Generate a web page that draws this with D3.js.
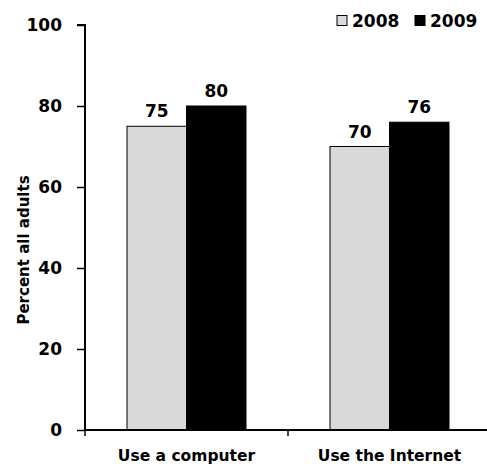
<!DOCTYPE html>
<html><head><meta charset="utf-8">
<script src="https://cdn.jsdelivr.net/npm/d3@7"></script>
<style>body{margin:0;background:#fff}svg{display:block}text{font-family:"DejaVu Sans",sans-serif;font-weight:bold;fill:#000}</style>
</head><body><svg id="c" width="487" height="464"></svg>
<script>
const categories = ["Use a computer", "Use the Internet"];
const seriesNames = ["2008", "2009"];
const values2008 = [75, 70];
const values2009 = [80, 76];
const yTicks = [0, 20, 40, 60, 80, 100];
const colors = ["#d9d9d9", "#000000"];

const FONT = "DejaVu Sans, sans-serif";
const svg = d3.select("#c");
const mLeft = 85, mRight = 491, mTop = 25, mBottom = 430;
const y = d3.scaleLinear().domain([0, 100]).range([mBottom, mTop]);
const x = d3.scaleBand().domain(categories).range([mLeft, mRight]).paddingInner(0).paddingOuter(0);
const xs = d3.scaleBand().domain(seriesNames).range([0, x.bandwidth()]).paddingInner(0).paddingOuter(0.706);

const data = categories.map((c, i) => ({c, v: [values2008[i], values2009[i]]}));

const g = svg.append("g");
data.forEach(d => {
  seriesNames.forEach((s, j) => {
    g.append("rect")
      .attr("x", x(d.c) + xs(s))
      .attr("y", y(d.v[j]))
      .attr("width", xs.bandwidth())
      .attr("height", y(0) - y(d.v[j]))
      .attr("fill", colors[j])
      .attr("stroke", "#000").attr("stroke-width", 1);
    g.append("text")
      .attr("x", x(d.c) + xs(s) + xs.bandwidth() / 2)
      .attr("y", y(d.v[j]) - 9)
      .attr("text-anchor", "middle")
      .attr("font-size", 17)
      .text(d.v[j]);
  });
});

// y axis
const ya = svg.append("g").attr("transform", `translate(${mLeft},0)`)
  .call(d3.axisLeft(y).tickValues(yTicks).tickSize(8).tickPadding(15));
ya.select(".domain").attr("stroke-width", 2).attr("d", `M-8,${mTop}H0V${mBottom}`);
ya.selectAll(".tick line").attr("stroke-width", 1.5);
ya.selectAll(".tick text").attr("font-size", 17).attr("font-family", FONT).attr("font-weight", "bold").attr("fill", "#000");

// x axis
const xa = svg.append("g").attr("transform", `translate(0,${mBottom})`);
xa.append("line").attr("x1", mLeft).attr("x2", 487).attr("y1", 0).attr("y2", 0).attr("stroke", "#000").attr("stroke-width", 2);
[mLeft, ...categories.slice(1).map(c => x(c))].forEach(t => {
  xa.append("line").attr("x1", t).attr("x2", t).attr("y1", 0).attr("y2", 6).attr("stroke", "#000").attr("stroke-width", 1.5);
});
categories.forEach(c => {
  xa.append("text").attr("x", x(c) + x.bandwidth() / 2).attr("y", 31)
    .attr("text-anchor", "middle").attr("font-size", 15.5).text(c);
});

// y title
svg.append("text").attr("transform", `translate(29,250) rotate(-90)`)
  .attr("text-anchor", "middle").attr("font-size", 15).text("Percent all adults");

// legend
const lg = svg.append("g");
const lx = [337, 415];
seriesNames.forEach((s, j) => {
  lg.append("rect").attr("x", lx[j]).attr("y", 15.5).attr("width", 10).attr("height", 10)
    .attr("fill", colors[j]).attr("stroke", "#000").attr("stroke-width", 1);
  lg.append("text").attr("x", lx[j] + 15).attr("y", 27).attr("font-size", 17).text(s);
});
</script></body></html>
